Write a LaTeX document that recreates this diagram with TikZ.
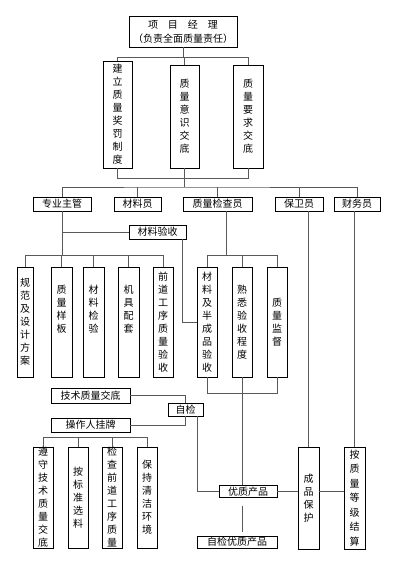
\documentclass[tikz,border=0pt]{standalone}
\usepackage{fontspec}
\setmainfont{Noto Sans CJK SC}
\usepackage{tikz}
\usetikzlibrary{calc}
\tikzset{
  box/.style={draw=black, line width=0.8pt, inner sep=0pt, align=center,
              font=\fontsize{10}{13}\selectfont},
  link/.style={draw=black!65, line width=0.9pt}
}

\begin{document}
\begin{tikzpicture}[x=1pt, y=-1pt]
  \useasboundingbox (0,0) rectangle (400,562);
  % top: manager and his three tasks
  \node[box, minimum width=108, minimum height=31, font=\fontsize{10}{14}\selectfont]
    (pm) at (183,31.5) {项\hspace{1em}目\hspace{1em}经\hspace{1em}理\\（负责全面质量责任）};
  \node[box, minimum width=29, minimum height=107] (zd) at (117.5,114.5) {建\\立\\质\\量\\奖\\罚\\制\\度};
  \node[box, minimum width=29, minimum height=103] (ys) at (184.5,116.5) {质\\量\\意\\识\\交\\底};
  \node[box, minimum width=30, minimum height=103] (yq) at (248,116.5) {质\\量\\要\\求\\交\\底};

  % staff row
  \node[box, minimum width=58, minimum height=14] (zg) at (62,204) {专业主管};
  \node[box, minimum width=47, minimum height=14] (cly) at (137.5,204) {材料员};
  \node[box, minimum width=69, minimum height=14] (zj) at (217.5,204) {质量检查员};
  \node[box, minimum width=48, minimum height=14] (bw) at (299,204) {保卫员};
  \node[box, minimum width=46, minimum height=14] (cw) at (357,204) {财务员};
  \node[box, minimum width=57, minimum height=14] (yss) at (157.5,232) {材料验收};

  % middle row
  \node[box, minimum width=16, minimum height=110] (m1) at (25,322) {规\\范\\及\\设\\计\\方\\案};
  \node[box, minimum width=21, minimum height=110] (m2) at (61.5,322) {质\\量\\样\\板\\\phantom{质}\\\phantom{质}};
  \node[box, minimum width=21, minimum height=110] (m3) at (93.5,322) {材\\料\\检\\验\\\phantom{质}\\\phantom{质}};
  \node[box, minimum width=21, minimum height=110] (m4) at (128.5,322) {机\\具\\配\\套\\\phantom{质}\\\phantom{质}};
  \node[box, minimum width=20, minimum height=110] (m5) at (163,322) {前\\道\\工\\序\\质\\量\\验\\收};
  \node[box, minimum width=20, minimum height=110] (r1) at (207,322) {材\\料\\及\\半\\成\\品\\验\\收};
  \node[box, minimum width=20, minimum height=110] (r2) at (242,322) {熟\\悉\\验\\收\\程\\度};
  \node[box, minimum width=20, minimum height=110] (r3) at (277,322) {质\\量\\监\\督};

  % self check
  \node[box, minimum width=79, minimum height=15] (jd) at (90.5,395.5) {技术质量交底};
  \node[box, minimum width=35, minimum height=13] (zk) at (185.5,409.5) {自检};
  \node[box, minimum width=79, minimum height=14] (cz) at (90.5,425) {操作人挂牌};

  % bottom row
  \node[box, minimum width=20, minimum height=101] (b1) at (43,497.5) {遵\\守\\技\\术\\质\\量\\交\\底};
  \node[box, minimum width=20, minimum height=101] (b2) at (78,497.5) {按\\标\\准\\选\\料};
  \node[box, minimum width=20, minimum height=101] (b3) at (112,497.5) {检\\查\\前\\道\\工\\序\\质\\量};
  \node[box, minimum width=20, minimum height=101] (b4) at (147,497.5) {保\\持\\清\\洁\\环\\境};
  \node[box, minimum width=58, minimum height=12] (yz) at (248,491.5) {优质产品};
  \node[box, minimum width=80, minimum height=12] (zjyz) at (237,542) {自检优质产品};
  \node[box, minimum width=21, minimum height=102] (cp) at (308.5,498) {成\\品\\保\\护};
  \node[box, minimum width=21, minimum height=102, font=\fontsize{10}{14.5}\selectfont]
    (js) at (354.5,498) {按\\质\\量\\等\\级\\结\\算};

  % connectors
  \draw[link] (pm.south) -- ++(0,10) coordinate (j1);
  \draw[link] (zd.north) |- (j1) -| (yq.north);
  \draw[link] (ys.north) -- (ys.north |- j1);
  \draw[link] (zd.south) -- ++(0,10) -| (yq.south);
  \coordinate (bar) at (184,187);
  \draw[link] (ys.south) -- (ys.south |- bar);
  \draw[link] (zg.north) |- (bar) -| (cw.north);
  \foreach \n in {cly, zj, bw}
    \draw[link] (\n.north) -- (\n.north |- bar);

  \coordinate (bar2) at (0,255);
  \draw[link] (zg.south) -- (zg.south |- bar2);
  \draw[link] (zg.south |- yss.west) -- (yss.west);
  \draw[link] (m1.north) -- (m1.north |- bar2) -| (m5.north);
  \foreach \n in {m2, m3, m4}
    \draw[link] (\n.north) -- (\n.north |- bar2);
  \draw[link] ([xshift=-4pt]yss.south east) |- (r1.west);

  \coordinate (zjd) at ([xshift=8.5pt]zj.south);
  \draw[link] (zjd) -- (zjd |- bar2);
  \draw[link] (r1.north) -- (r1.north |- bar2) -| (r3.north);
  \draw[link] (r2.north) -- (r2.north |- bar2);
  \coordinate (bar3) at (0,393);
  \draw[link] (r1.south) -- (r1.south |- bar3) -| (r3.south);
  \draw[link] (r2.south) -- (r2.south |- yz.north);

  \draw[link] (jd.east) -| (zk.north);
  \draw[link] (cz.east) -| (zk.south);
  \coordinate (zkd) at ([xshift=11.5pt]zk.south);
  \draw[link] (zkd) |- (yz.west);

  \coordinate (bar4) at (0,437);
  \draw[link] (b1.north) -- (b1.north |- bar4) -| (b4.north);
  \foreach \n in {b2, b3}
    \draw[link] (\n.north) -- (\n.north |- bar4);

  \draw[link] (yz.east) -- (yz.east -| cp.west);
  \draw[link] (yz.east -| cp.east) -- (yz.east -| js.west);
  \draw[link] (cp.north) -- (cp.north |- bw.south);
  \draw[link] (js.north) -- (js.north |- cw.south);
  \draw[link, shorten <=8pt, shorten >=4pt] (r2.south |- yz.south) -- (r2.south |- zjyz.north);
\end{tikzpicture}
\end{document}
